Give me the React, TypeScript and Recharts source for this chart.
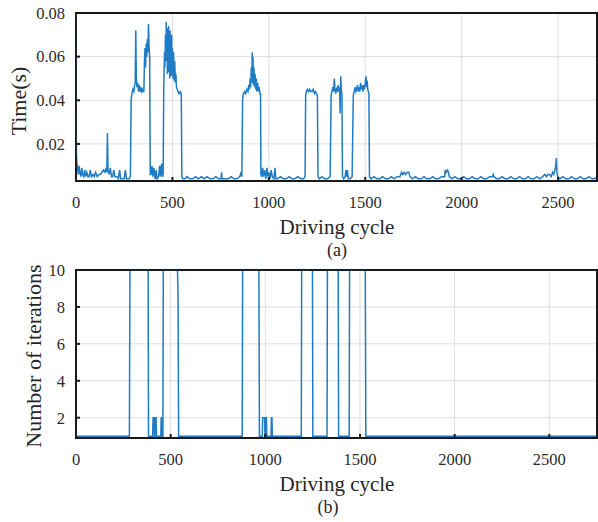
import React from 'react';
import { LineChart, Line, XAxis, YAxis, CartesianGrid, ReferenceArea } from 'recharts';

// solver time per step: [driving cycle, seconds]
const solveTime: [number, number][] = [
  [0, 0.08], [2, 0.016], [5, 0.011], [8, 0.009], [12, 0.006], [16, 0.01], [20, 0.007], [25, 0.005],
  [30, 0.009], [34, 0.006], [40, 0.005], [45, 0.008], [50, 0.005], [56, 0.007], [62, 0.005], [68, 0.005],
  [74, 0.008], [80, 0.005], [88, 0.006], [95, 0.005], [102, 0.007], [110, 0.005], [118, 0.006], [126, 0.006],
  [134, 0.007], [142, 0.008], [150, 0.007], [156, 0.009], [160, 0.007], [163, 0.025], [166, 0.008], [172, 0.006],
  [178, 0.009], [184, 0.005], [190, 0.005], [196, 0.008], [202, 0.005], [212, 0.005], [220, 0.004], [226, 0.008],
  [232, 0.004], [244, 0.004], [250, 0.004], [256, 0.008], [262, 0.004], [276, 0.004], [282, 0.005],
  [286, 0.04], [290, 0.043], [295, 0.045], [300, 0.044], [304, 0.047], [307, 0.048], [310, 0.072], [313, 0.05],
  [316, 0.046], [320, 0.048], [324, 0.044], [328, 0.047], [332, 0.044], [336, 0.046], [340, 0.044], [344, 0.045],
  [348, 0.044], [352, 0.044], [355, 0.058], [358, 0.064], [361, 0.055], [364, 0.066], [367, 0.06], [370, 0.068],
  [373, 0.062], [376, 0.075], [379, 0.064], [382, 0.06], [385, 0.006],
  [388, 0.006], [394, 0.01], [398, 0.005], [404, 0.009], [410, 0.004], [416, 0.008], [420, 0.004], [428, 0.005],
  [434, 0.01], [438, 0.005], [444, 0.011], [448, 0.005], [452, 0.006],
  [455, 0.045], [459, 0.062], [461, 0.055], [464, 0.07], [466, 0.058], [468, 0.076], [470, 0.06], [472, 0.073],
  [474, 0.052], [476, 0.071], [478, 0.056], [480, 0.074], [482, 0.053], [484, 0.069], [486, 0.05], [488, 0.072],
  [490, 0.055], [492, 0.066], [494, 0.051], [496, 0.07], [498, 0.053], [500, 0.064], [503, 0.05], [506, 0.062],
  [509, 0.049], [512, 0.058], [515, 0.048], [518, 0.052], [521, 0.046], [525, 0.045], [529, 0.044], [534, 0.043],
  [540, 0.044], [546, 0.043], [549, 0.005],
  [555, 0.004], [565, 0.004], [575, 0.005], [590, 0.004], [605, 0.004], [620, 0.005], [635, 0.004], [650, 0.005],
  [665, 0.004], [680, 0.005], [695, 0.004], [710, 0.004], [725, 0.005], [740, 0.004], [752, 0.004], [755, 0.007],
  [758, 0.004], [775, 0.004], [790, 0.004], [805, 0.005], [820, 0.004], [835, 0.004], [850, 0.005], [856, 0.007],
  [860, 0.005],
  [864, 0.04], [868, 0.043], [874, 0.044], [880, 0.043], [886, 0.045], [892, 0.044], [896, 0.047], [900, 0.045],
  [903, 0.05], [906, 0.046], [909, 0.055], [912, 0.048], [914, 0.062], [916, 0.05], [918, 0.06], [920, 0.047],
  [923, 0.055], [926, 0.046], [929, 0.052], [932, 0.045], [935, 0.05], [938, 0.044], [942, 0.048], [946, 0.044],
  [950, 0.046], [954, 0.043], [957, 0.043], [959, 0.006],
  [963, 0.005], [968, 0.009], [972, 0.005], [978, 0.008], [984, 0.004], [990, 0.009], [995, 0.005], [1000, 0.007],
  [1006, 0.004], [1012, 0.008], [1018, 0.005], [1026, 0.004], [1032, 0.009], [1036, 0.004], [1045, 0.004],
  [1060, 0.005], [1075, 0.004], [1090, 0.004], [1105, 0.005], [1120, 0.004], [1135, 0.004], [1150, 0.005],
  [1165, 0.004], [1180, 0.004], [1188, 0.005],
  [1191, 0.042], [1195, 0.044], [1200, 0.045], [1206, 0.044], [1212, 0.045], [1218, 0.044], [1224, 0.044],
  [1230, 0.045], [1236, 0.043], [1242, 0.044], [1248, 0.043], [1252, 0.042], [1255, 0.005],
  [1262, 0.004], [1275, 0.005], [1290, 0.004], [1305, 0.004], [1318, 0.005],
  [1323, 0.042], [1327, 0.044], [1332, 0.046], [1336, 0.044], [1340, 0.05], [1343, 0.045], [1347, 0.043],
  [1351, 0.045], [1355, 0.044], [1359, 0.047], [1363, 0.044], [1367, 0.046], [1370, 0.034], [1371, 0.044],
  [1373, 0.051], [1376, 0.045], [1379, 0.043], [1382, 0.005],
  [1388, 0.004], [1396, 0.005], [1400, 0.008], [1404, 0.005], [1408, 0.008], [1412, 0.004], [1422, 0.004],
  [1432, 0.005],
  [1438, 0.042], [1442, 0.044], [1448, 0.046], [1452, 0.044], [1456, 0.045], [1460, 0.047], [1464, 0.044],
  [1468, 0.046], [1472, 0.044], [1476, 0.048], [1480, 0.045], [1484, 0.046], [1488, 0.044], [1492, 0.047],
  [1496, 0.045], [1500, 0.048], [1504, 0.051], [1507, 0.046], [1510, 0.049], [1513, 0.045], [1516, 0.044],
  [1519, 0.043], [1522, 0.005],
  [1530, 0.004], [1545, 0.005], [1560, 0.004], [1575, 0.004], [1590, 0.005], [1605, 0.004], [1620, 0.004],
  [1635, 0.005], [1650, 0.004], [1665, 0.005], [1680, 0.005], [1688, 0.007], [1695, 0.006], [1702, 0.007],
  [1710, 0.006], [1718, 0.007], [1726, 0.007], [1732, 0.005], [1745, 0.004], [1760, 0.005], [1775, 0.004],
  [1790, 0.004], [1805, 0.005], [1820, 0.004], [1835, 0.004], [1850, 0.005], [1865, 0.004], [1880, 0.004],
  [1895, 0.005], [1912, 0.005], [1915, 0.008], [1920, 0.007], [1926, 0.008], [1932, 0.007], [1936, 0.005],
  [1950, 0.004], [1965, 0.005], [1980, 0.004], [1995, 0.004], [2010, 0.005], [2025, 0.004], [2040, 0.004],
  [2055, 0.005], [2070, 0.004], [2085, 0.004], [2100, 0.005], [2115, 0.004], [2130, 0.004], [2145, 0.005],
  [2160, 0.005], [2164, 0.006], [2168, 0.005], [2180, 0.004], [2195, 0.004], [2210, 0.005], [2225, 0.004],
  [2240, 0.004], [2255, 0.005], [2270, 0.004], [2285, 0.004], [2300, 0.005], [2315, 0.004], [2330, 0.004],
  [2345, 0.005], [2360, 0.004], [2375, 0.004], [2390, 0.005], [2405, 0.004], [2420, 0.005], [2432, 0.006],
  [2440, 0.005], [2448, 0.006], [2456, 0.006], [2464, 0.005], [2472, 0.007], [2478, 0.006], [2484, 0.008],
  [2488, 0.01], [2491, 0.0135], [2494, 0.007], [2498, 0.005], [2510, 0.004], [2525, 0.005], [2540, 0.004],
  [2555, 0.004], [2570, 0.005], [2585, 0.004], [2600, 0.004], [2615, 0.005], [2630, 0.004], [2645, 0.004],
  [2660, 0.005], [2675, 0.004], [2690, 0.004], [2700, 0.005],
];

// iterations per step: [driving cycle, count]
const iterCount: [number, number][] = [
  [0, 1], [282, 1], [283, 4], [285, 10], [381, 10], [383, 1], [405, 1], [407, 2], [413, 2], [414, 1],
  [416, 1], [418, 2], [423, 2], [425, 1], [448, 1], [450, 2], [454, 2], [456, 1], [459, 1], [461, 10],
  [536, 10], [539, 8.7], [542, 1], [878, 1], [880, 10], [966, 10], [969, 1], [984, 1], [986, 2], [996, 2],
  [998, 1], [1000, 1], [1002, 2], [1006, 2], [1008, 1], [1030, 1], [1032, 2], [1035, 2], [1037, 1],
  [1190, 1], [1192, 10], [1249, 10], [1251, 1], [1326, 1], [1328, 10], [1385, 10], [1387, 1], [1443, 1],
  [1445, 10], [1528, 10], [1531, 1], [2752, 1],
];

const cycleTicks = [0, 500, 1000, 1500, 2000, 2500];
const timeTicks = [0.02, 0.04, 0.06, 0.08];
const iterTicks = [2, 4, 6, 8, 10];

const FONT = '"Liberation Serif", "Times New Roman", serif';
const BLUE = '#1f7bc4';
const INK = '#1a1a1a';

type PanelProps = {
  top: number;
  rows: [number, number][];
  xMax: number;
  yDomain: [number, number];
  yTicks: number[];
  fmt: (v: number) => string;
};

const axisLine = { stroke: INK, strokeWidth: 1.5 };
const tickLine = { stroke: INK, strokeWidth: 2 };
const tickText = { fill: '#2b2b2b', fontSize: 16.5, fontFamily: FONT };

const Panel = ({ top, rows, xMax, yDomain, yTicks, fmt }: PanelProps) => {
  const data = rows.map(([x, y]) => ({ x, y }));
  return (
    <div style={{ position: 'absolute', left: 0, top, width: 598, height: 215 }}>
      <LineChart width={598} height={215} data={data} margin={{ top: 12, right: 0, bottom: 0, left: 0 }}>
        <CartesianGrid stroke="#dedede" strokeWidth={1} />
        <XAxis
          dataKey="x"
          type="number"
          domain={[0, xMax]}
          ticks={cycleTicks}
          allowDataOverflow
          height={34}
          stroke={INK}
          tickSize={-4}
          tickMargin={19}
          axisLine={axisLine}
          tickLine={tickLine}
          tick={tickText}
        />
        <XAxis
          xAxisId="top"
          orientation="top"
          dataKey="x"
          type="number"
          domain={[0, xMax]}
          ticks={cycleTicks}
          allowDataOverflow
          height={1}
          stroke={INK}
          tickSize={-4}
          axisLine={axisLine}
          tickLine={tickLine}
          tick={false}
        />
        <YAxis
          type="number"
          domain={yDomain}
          ticks={yTicks}
          allowDataOverflow
          interval={0}
          width={76}
          stroke={INK}
          tickSize={-4}
          tickMargin={15}
          tickFormatter={fmt}
          axisLine={axisLine}
          tickLine={tickLine}
          tick={tickText}
        />
        <YAxis
          yAxisId="right"
          orientation="right"
          type="number"
          domain={yDomain}
          ticks={yTicks}
          allowDataOverflow
          interval={0}
          width={1}
          stroke={INK}
          tickSize={-4}
          axisLine={axisLine}
          tickLine={tickLine}
          tick={false}
        />
        <Line
          type="linear"
          dataKey="y"
          stroke={BLUE}
          strokeWidth={1.5}
          dot={false}
          isAnimationActive={false}
        />
        {/* box around the plot area */}
        <ReferenceArea
          x1={0}
          x2={xMax}
          y1={yDomain[0]}
          y2={yDomain[1]}
          fill="none"
          stroke={INK}
          strokeWidth={2}
          ifOverflow="visible"
        />
      </LineChart>
    </div>
  );
};

const txt = { fontFamily: FONT, fill: '#262626' } as const;

export default function App() {
  return (
    <div style={{ position: 'absolute', left: 0, top: 0, width: 598, height: 522, background: '#fff' }}>
      <Panel
        top={0}
        rows={solveTime}
        xMax={2702}
        yDomain={[0.003, 0.08]}
        yTicks={timeTicks}
        fmt={(v) => v.toFixed(2)}
      />
      <Panel
        top={257}
        rows={iterCount}
        xMax={2752}
        yDomain={[0.9, 10]}
        yTicks={iterTicks}
        fmt={(v) => String(v)}
      />
      <svg width={598} height={522} style={{ position: 'absolute', left: 0, top: 0, pointerEvents: 'none' }}>
        <text {...txt} fontSize={22} textAnchor="middle" transform="translate(26,101) rotate(-90)">
          Time(s)
        </text>
        <text {...txt} fontSize={21} x={337} y={234} textAnchor="middle">
          Driving cycle
        </text>
        <text {...txt} fontSize={18} x={337} y={256} textAnchor="middle">
          (a)
        </text>
        <text {...txt} fontSize={22} textAnchor="middle" transform="translate(41,356) rotate(-90)">
          Number of iterations
        </text>
        <text {...txt} fontSize={21} x={337} y={491} textAnchor="middle">
          Driving cycle
        </text>
        <text {...txt} fontSize={18} x={328} y={513} textAnchor="middle">
          (b)
        </text>
      </svg>
    </div>
  );
}
